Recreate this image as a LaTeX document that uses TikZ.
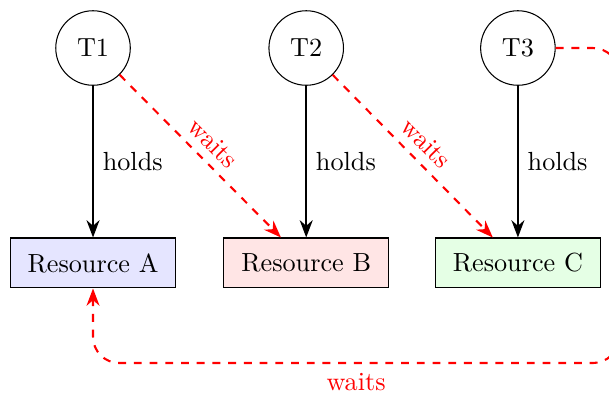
\documentclass[tikz,border=0pt]{standalone}
\usetikzlibrary{arrows.meta}

\begin{document}
\begin{tikzpicture}[
    thread/.style={circle, draw, minimum size=1cm},
    resource/.style={rectangle, draw, minimum width=2.22cm, minimum height=0.67cm},
    holdline/.style={thick, ->, >=Stealth},
    waitline/.style={red, thick, dashed, ->, >=Stealth}
  ]

    % 固定画布范围
    \useasboundingbox (-1.248,0.644) rectangle (6.922,-4.655);

    % ========== 线程 ==========
    \node[thread] (T1) at (0, 0)    {T1};
    \node[thread] (T2) at (2.86, 0) {T2};
    \node[thread] (T3) at (5.70, 0) {T3};

    % ========== 资源 ==========
    \node[resource, fill=blue!10]  (resA) at (0, -2.884)    {Resource A};
    \node[resource, fill=red!10]   (resB) at (2.86, -2.884) {Resource B};
    \node[resource, fill=green!10] (resC) at (5.70, -2.884) {Resource C};

    % 持有关系：黑色实线
    \draw[holdline] (T1) -- (resA) node[midway, right] {holds};
    \draw[holdline] (T2) -- (resB) node[midway, right] {holds};
    \draw[holdline] (T3) -- (resC) node[midway, right] {holds};

    % 等待关系：红色虚线
    \draw[waitline] (T1) -- (resB) node[midway, above, sloped] {waits};
    \draw[waitline] (T2) -- (resC) node[midway, above, sloped] {waits};

    % T3 绕回去等待 A，形成环
    \coordinate (loop) at ([yshift=-1cm]resA.south);
    \draw[waitline, rounded corners=10pt]
         (T3.east) -- ++(0.85, 0) |- (loop) node[pos=0.75, below] {waits}
         -- (resA.south);

  \end{tikzpicture}
\end{document}
